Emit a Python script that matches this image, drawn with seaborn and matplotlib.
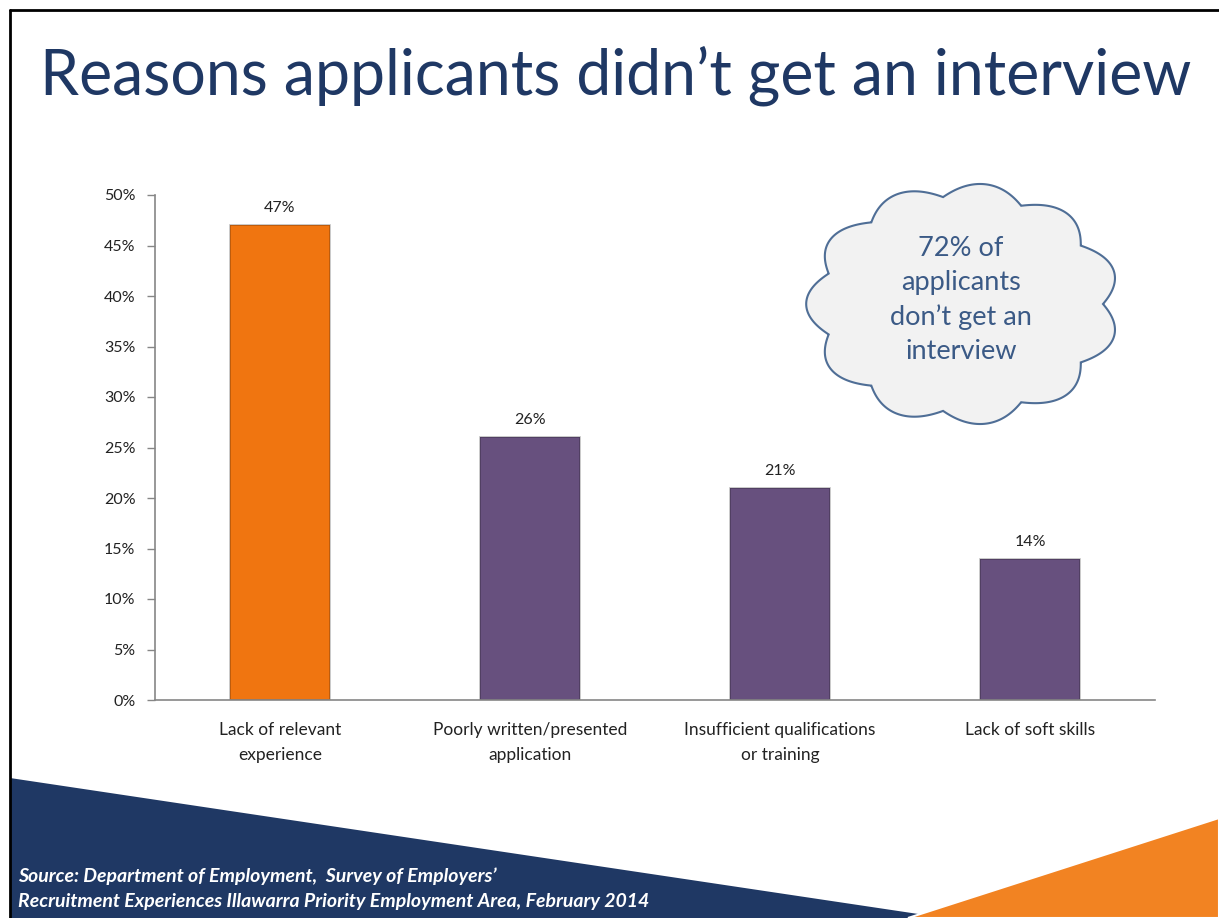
import numpy as np
import pandas as pd
import matplotlib
matplotlib.use("Agg")
import matplotlib.pyplot as plt
import seaborn as sns
from matplotlib.patches import Polygon
from matplotlib.lines import Line2D
from matplotlib.ticker import FixedLocator

categories = ["Lack of relevant\nexperience", "Poorly written/presented\napplication",
              "Insufficient qualifications\nor training", "Lack of soft skills"]
values = [47, 26, 21, 14]
bar_colors = ["#F07510", "#67507E", "#67507E", "#67507E"]
y_ticks = [0, 5, 10, 15, 20, 25, 30, 35, 40, 45, 50]

title = "Reasons applicants didn\u2019t get an interview"
cloud_text = "72% of\napplicants\ndon\u2019t get an\ninterview"
source_lines = ["Source: Department of Employment,  Survey of Employers\u2019",
                "Recruitment Experiences Illawarra Priority Employment Area, February 2014"]

sns.set_theme(style="white")
plt.rcParams["font.family"] = ["Lato", "DejaVu Sans"]

W, H = 1219, 918
fig = plt.figure(figsize=(W / 100, H / 100), dpi=100)
fig.patch.set_facecolor("white")


def fx(px):
    return px / W


def fy(py):
    return 1 - py / H


# slide decoration: navy and orange wedges at the bottom
fig.add_artist(Polygon([(fx(10), fy(778)), (fx(945), fy(918)), (fx(10), fy(918))],
                       closed=True, transform=fig.transFigure, facecolor="#1F3864",
                       edgecolor="none", zorder=0))
fig.add_artist(Polygon([(fx(908), fy(918)), (fx(1219), fy(818)), (fx(1219), fy(918))],
                       closed=True, transform=fig.transFigure, facecolor="#F28322",
                       edgecolor="white", linewidth=1.5, zorder=0.5))

# slide frame (top and left)
fig.add_artist(Line2D([fx(10), fx(1219)], [fy(10), fy(10)], transform=fig.transFigure,
                      color="black", linewidth=2))
fig.add_artist(Line2D([fx(10), fx(10)], [fy(10), fy(918)], transform=fig.transFigure,
                      color="black", linewidth=2))

fig.text(fx(40), fy(76), title, fontsize=45, color="#1F3864", va="center", ha="left")

for i, line in enumerate(source_lines):
    fig.text(fx(18), fy(876 + i * 25), line, fontsize=14, color="white",
             fontstyle="italic", fontweight="bold", va="center", ha="left")

# bar chart
ax = fig.add_axes([fx(155), fy(700), fx(1155) - fx(155), fy(195) - fy(700)])
ax.set_facecolor("none")
df = pd.DataFrame({"category": categories, "value": values})
sns.barplot(data=df, x="category", y="value", hue="category", palette=bar_colors,
            width=0.4, legend=False, ax=ax, saturation=1)
for patch in ax.patches:
    patch.set_edgecolor("#00000040")
    patch.set_linewidth(1.2)

for i, v in enumerate(values):
    ax.text(i, v + 1.0, f"{v}%", ha="center", va="bottom", fontsize=11.5, color="#222222")

ax.set_ylim(0, 50)
ax.set_xlim(-0.5, len(categories) - 0.5)
ax.set_yticks(y_ticks)
ax.set_yticklabels([f"{t}%" for t in y_ticks], fontsize=11.5, color="#222222")
ax.set_xticks(range(len(categories)))
ax.set_xticklabels(categories, fontsize=12.5, color="#222222", linespacing=1.7)
ax.xaxis.set_minor_locator(FixedLocator(np.arange(-0.5, len(categories), 1.0)))
ax.tick_params(axis="x", which="major", length=0, pad=16)
ax.tick_params(axis="x", which="minor", length=6, width=1, color="#868686", direction="out")
ax.tick_params(axis="y", length=6, width=1, color="#868686", direction="out", left=True, pad=8)
ax.set_xlabel("")
ax.set_ylabel("")
for side in ["top", "right"]:
    ax.spines[side].set_visible(False)
for side in ["left", "bottom"]:
    ax.spines[side].set_color("#868686")
    ax.spines[side].set_linewidth(1.2)

# callout cloud
cx, cy, rx, ry = 963, 304, 140, 108
t = np.linspace(0, 2 * np.pi, 1200)
bumps = 11
r = 1 + 0.12 * np.abs(np.sin(bumps * t / 2))
px = cx + rx * r * np.cos(t)
py = cy + ry * r * np.sin(t)
fig.add_artist(Polygon(np.column_stack([fx(px), fy(py)]), closed=True,
                       transform=fig.transFigure, facecolor="#F2F2F2",
                       edgecolor="#4F6E96", linewidth=1.5, zorder=3))
fig.text(fx(cx - 2), fy(300), cloud_text, fontsize=19.5, color="#3B5A86", ha="center",
         va="center", linespacing=1.45, zorder=4)

fig.savefig("out.png", dpi=100, facecolor="white")
